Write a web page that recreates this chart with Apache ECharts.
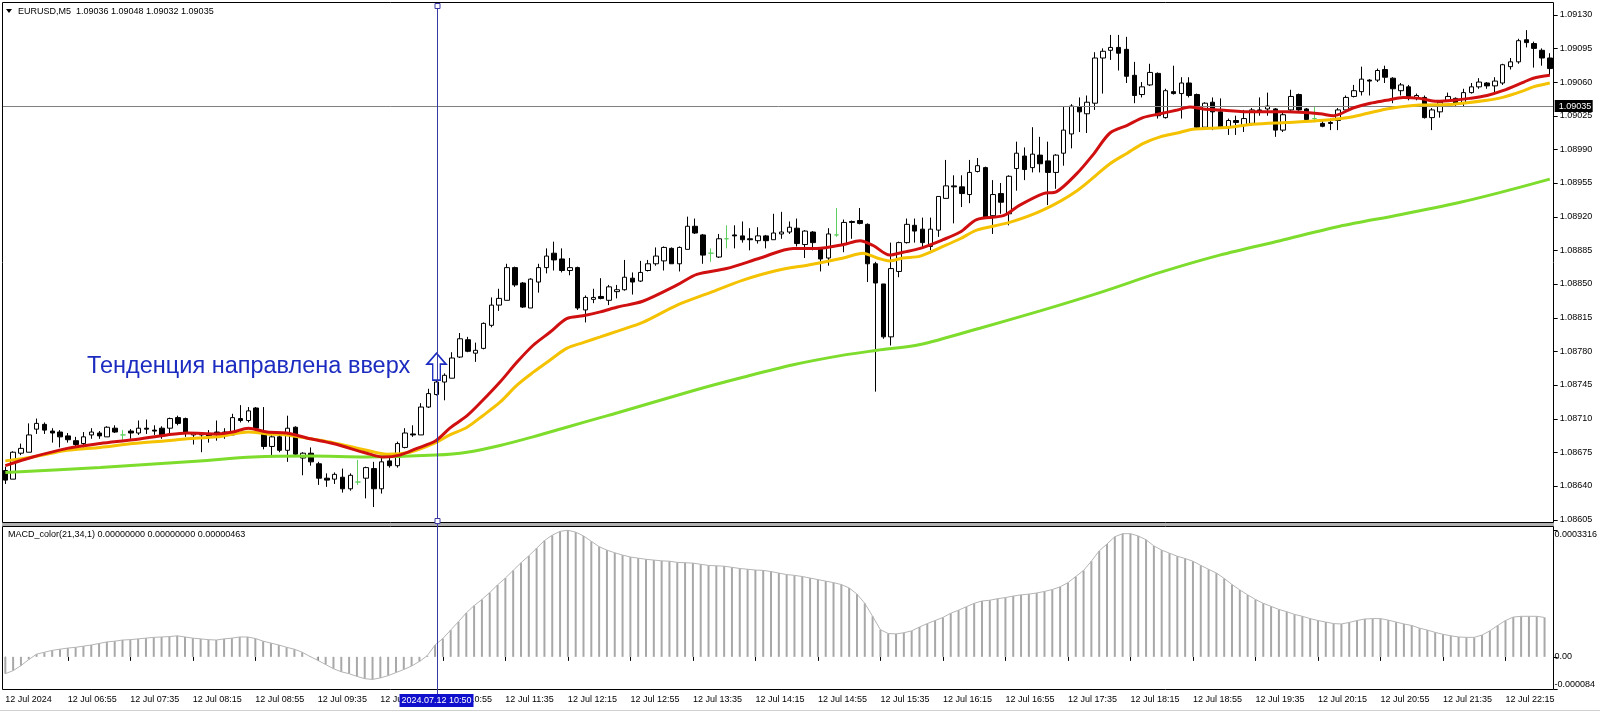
<!DOCTYPE html>
<html><head><meta charset="utf-8">
<script src="https://cdn.jsdelivr.net/npm/echarts@6/dist/echarts.min.js"></script>
<style>html,body{margin:0;padding:0;background:#fff}#c{width:1600px;height:713px}</style>
</head><body><div id="c"></div>
<script>
// ---- bar timeline (M5 bars, 12 Jul 2024) ----
const firstBarMinutes = 6 * 60 + 15;
const barMinutes = 5;
const barCount = 198;
const times = [];
for (let i = 0; i < barCount; i++) {
  const m = firstBarMinutes + i * barMinutes;
  times.push(String(Math.floor(m / 60)).padStart(2, '0') + ':' + String(m % 60).padStart(2, '0'));
}
const labelEvery = 8;
const firstLabel = '12 Jul 2024';
const dayPrefix = '12 Jul ';

// ---- OHLC ----
const openP = [
1.08656,1.08647,1.08674,1.08675,1.08699,1.08704,1.08697,1.08696,1.08692,1.08687,
1.08684,1.08693,1.08695,1.08691,1.08700,1.08693,1.08697,1.08695,1.08700,1.08698,
1.08700,1.08700,1.08711,1.08710,1.08693,1.08694,1.08693,1.08696,1.08693,1.08693,
1.08710,1.08708,1.08721,1.08694,1.08681,1.08691,1.08677,1.08701,1.08669,1.08674,
1.08663,1.08648,1.08647,1.08649,1.08637,1.08644,1.08648,1.08658,1.08637,1.08666,
1.08661,1.08680,1.08694,1.08693,1.08722,1.08735,1.08748,1.08752,1.08774,1.08792,
1.08778,1.08783,1.08807,1.08828,1.08833,1.08867,1.08851,1.08825,1.08852,1.08867,
1.08882,1.08876,1.08864,1.08867,1.08823,1.08834,1.08837,1.08833,1.08842,1.08844,
1.08856,1.08853,1.08864,1.08871,1.08874,1.08887,1.08871,1.08886,1.08910,1.08901,
1.08882,1.08878,1.08897,1.08901,1.08900,1.08897,1.08895,1.08900,1.08896,1.08902,
1.08904,1.08908,1.08891,1.08904,1.08887,1.08877,1.08901,1.08891,1.08915,1.08916,
1.08912,1.08871,1.08850,1.08795,1.08863,1.08893,1.08911,1.08907,1.08889,1.08906,
1.08939,1.08952,1.08951,1.08943,1.08967,1.08971,1.08921,1.08944,1.08923,1.08970,
1.08983,1.08971,1.08984,1.08978,1.08966,1.08986,1.09006,1.09034,1.09027,1.09038,
1.09085,1.09093,1.09096,1.09094,1.09067,1.09047,1.09057,1.09069,1.09023,1.09050,
1.09048,1.09059,1.09047,1.09013,1.09039,1.09029,1.09013,1.09020,1.09015,1.09017,
1.09031,1.09032,1.09032,1.09010,1.09031,1.09047,1.09032,1.09022,1.09017,1.09018,
1.09020,1.09031,1.09045,1.09050,1.09062,1.09062,1.09073,1.09064,1.09051,1.09055,
1.09043,1.09044,1.09023,1.09029,1.09041,1.09043,1.09038,1.09049,1.09055,1.09059,
1.09056,1.09059,1.09076,1.09081,1.09104,1.09100,1.09093,1.09085];
const highP = [
1.08660,1.08676,1.08684,1.08705,1.08710,1.08706,1.08700,1.08698,1.08695,1.08691,
1.08696,1.08700,1.08697,1.08702,1.08703,1.08698,1.08699,1.08708,1.08709,1.08703,
1.08702,1.08711,1.08713,1.08711,1.08696,1.08696,1.08698,1.08708,1.08700,1.08715,
1.08724,1.08722,1.08722,1.08722,1.08693,1.08693,1.08713,1.08702,1.08675,1.08680,
1.08665,1.08653,1.08654,1.08658,1.08653,1.08667,1.08660,1.08665,1.08669,1.08670,
1.08686,1.08700,1.08703,1.08726,1.08741,1.08752,1.08757,1.08779,1.08799,1.08795,
1.08789,1.08810,1.08836,1.08845,1.08871,1.08868,1.08852,1.08856,1.08871,1.08887,
1.08894,1.08887,1.08877,1.08868,1.08838,1.08845,1.08856,1.08849,1.08849,1.08875,
1.08862,1.08874,1.08875,1.08888,1.08889,1.08888,1.08889,1.08920,1.08918,1.08902,
1.08887,1.08902,1.08911,1.08911,1.08915,1.08908,1.08909,1.08901,1.08923,1.08925,
1.08915,1.08918,1.08906,1.08905,1.08888,1.08908,1.08929,1.08917,1.08916,1.08929,
1.08913,1.08873,1.08850,1.08893,1.08894,1.08918,1.08918,1.08919,1.08919,1.08941,
1.08979,1.08963,1.08963,1.08979,1.08981,1.08972,1.08958,1.08955,1.08963,1.08998,
1.08992,1.09013,1.09003,1.08998,1.08985,1.09034,1.09037,1.09044,1.09046,1.09091,
1.09095,1.09109,1.09109,1.09107,1.09081,1.09060,1.09079,1.09070,1.09053,1.09077,
1.09065,1.09065,1.09048,1.09039,1.09044,1.09043,1.09022,1.09025,1.09031,1.09033,
1.09044,1.09049,1.09033,1.09029,1.09052,1.09048,1.09033,1.09034,1.09021,1.09022,
1.09033,1.09046,1.09057,1.09076,1.09063,1.09074,1.09077,1.09065,1.09059,1.09057,
1.09048,1.09046,1.09033,1.09041,1.09049,1.09044,1.09053,1.09059,1.09064,1.09060,
1.09065,1.09079,1.09085,1.09105,1.09114,1.09102,1.09095,1.09090];
const lowP = [
1.08642,1.08647,1.08672,1.08675,1.08694,1.08694,1.08685,1.08680,1.08685,1.08680,
1.08680,1.08689,1.08689,1.08691,1.08695,1.08687,1.08689,1.08693,1.08694,1.08693,
1.08689,1.08695,1.08703,1.08691,1.08683,1.08675,1.08685,1.08687,1.08689,1.08693,
1.08706,1.08706,1.08698,1.08678,1.08672,1.08675,1.08665,1.08672,1.08651,1.08661,
1.08641,1.08639,1.08642,1.08633,1.08635,1.08641,1.08627,1.08618,1.08632,1.08659,
1.08659,1.08679,1.08691,1.08693,1.08721,1.08734,1.08729,1.08752,1.08773,1.08779,
1.08769,1.08782,1.08805,1.08822,1.08833,1.08847,1.08825,1.08825,1.08841,1.08861,
1.08864,1.08862,1.08859,1.08823,1.08810,1.08830,1.08834,1.08828,1.08835,1.08843,
1.08839,1.08852,1.08863,1.08869,1.08864,1.08871,1.08863,1.08886,1.08902,1.08871,
1.08873,1.08877,1.08887,1.08887,1.08893,1.08885,1.08892,1.08887,1.08896,1.08897,
1.08902,1.08889,1.08877,1.08885,1.08863,1.08869,1.08899,1.08883,1.08897,1.08912,
1.08852,1.08738,1.08793,1.08786,1.08857,1.08892,1.08893,1.08887,1.08885,1.08899,
1.08939,1.08913,1.08930,1.08934,1.08966,1.08919,1.08902,1.08923,1.08911,1.08947,
1.08958,1.08966,1.08966,1.08932,1.08949,1.08973,1.08991,1.09008,1.09007,1.09031,
1.09048,1.09083,1.09072,1.09059,1.09038,1.09044,1.09056,1.09022,1.09022,1.09047,
1.09022,1.09044,1.09012,1.09012,1.09010,1.09012,1.09005,1.09005,1.09008,1.09015,
1.09025,1.09025,1.09003,1.09008,1.09029,1.09030,1.09020,1.09018,1.09013,1.09010,
1.09010,1.09029,1.09044,1.09046,1.09046,1.09060,1.09059,1.09038,1.09046,1.09041,
1.09041,1.09022,1.09010,1.09023,1.09040,1.09034,1.09034,1.09048,1.09053,1.09053,
1.09048,1.09057,1.09073,1.09079,1.09096,1.09075,1.09077,1.09067];
const closeP = [
1.08646,1.08675,1.08679,1.08693,1.08705,1.08698,1.08695,1.08691,1.08688,1.08683,
1.08691,1.08696,1.08692,1.08701,1.08696,1.08693,1.08695,1.08700,1.08699,1.08697,
1.08693,1.08710,1.08705,1.08695,1.08695,1.08693,1.08692,1.08695,1.08696,1.08711,
1.08708,1.08718,1.08700,1.08681,1.08691,1.08677,1.08700,1.08673,1.08674,1.08665,
1.08648,1.08646,1.08652,1.08637,1.08651,1.08644,1.08659,1.08637,1.08665,1.08661,
1.08684,1.08695,1.08693,1.08722,1.08736,1.08748,1.08755,1.08773,1.08793,1.08780,
1.08781,1.08809,1.08828,1.08835,1.08867,1.08849,1.08826,1.08855,1.08867,1.08879,
1.08875,1.08864,1.08867,1.08825,1.08836,1.08836,1.08835,1.08847,1.08844,1.08857,
1.08852,1.08862,1.08871,1.08879,1.08888,1.08871,1.08888,1.08910,1.08903,1.08880,
1.08882,1.08897,1.08897,1.08900,1.08896,1.08896,1.08900,1.08895,1.08903,1.08904,
1.08909,1.08892,1.08905,1.08893,1.08876,1.08902,1.08901,1.08914,1.08914,1.08913,
1.08871,1.08851,1.08795,1.08866,1.08893,1.08912,1.08905,1.08893,1.08907,1.08941,
1.08952,1.08951,1.08944,1.08966,1.08973,1.08919,1.08943,1.08935,1.08962,1.08986,
1.08969,1.08985,1.08975,1.08966,1.08984,1.09010,1.09035,1.09029,1.09039,1.09085,
1.09092,1.09096,1.09090,1.09066,1.09046,1.09055,1.09070,1.09025,1.09051,1.09048,
1.09059,1.09046,1.09013,1.09038,1.09029,1.09013,1.09020,1.09018,1.09022,1.09031,
1.09030,1.09035,1.09010,1.09026,1.09045,1.09031,1.09021,1.09022,1.09014,1.09017,
1.09031,1.09044,1.09051,1.09063,1.09061,1.09072,1.09065,1.09053,1.09057,1.09044,
1.09046,1.09023,1.09031,1.09039,1.09045,1.09038,1.09049,1.09055,1.09060,1.09056,
1.09061,1.09078,1.09081,1.09103,1.09101,1.09095,1.09085,1.09074];

// ---- moving averages: [bar index, price] ----
const maRed = [[0,1.08661],[3.5,1.08670],[7.9,1.08679],[12.1,1.08684],[16.3,1.08688],[20.6,1.08693],[23.2,1.08695],[27,1.08694],[29,1.08696],[31,1.08700],[33.4,1.08696],[35.9,1.08695],[38.9,1.08689],[41.8,1.08684],[46.1,1.08674],[48.2,1.08670],[50.3,1.08672],[52.5,1.08679],[54.9,1.08687],[56.7,1.08700],[58.9,1.08713],[60.9,1.08729],[63.1,1.08748],[65.3,1.08769],[67.3,1.08786],[69.5,1.08800],[71.6,1.08814],[73.7,1.08817],[75.9,1.08821],[78.1,1.08826],[81.3,1.08832],[85.7,1.08849],[88.2,1.08860],[92,1.08866],[96.3,1.08877],[100.5,1.08887],[103.5,1.08887],[106.9,1.08891],[109,1.08895],[110.7,1.08890],[112.8,1.08880],[114.5,1.08883],[116.7,1.08887],[119.6,1.08896],[121.8,1.08904],[123.9,1.08917],[127.3,1.08921],[129.4,1.08932],[132.4,1.08944],[134.1,1.08946],[136.7,1.08965],[138.7,1.08984],[140.9,1.09007],[143.1,1.09015],[145.1,1.09023],[147.3,1.09027],[149.5,1.09031],[151.1,1.09034],[152.8,1.09032],[154.9,1.09031],[159.1,1.09029],[163.5,1.09029],[167.7,1.09027],[169.4,1.09025],[171.9,1.09033],[174.1,1.09038],[176.2,1.09041],[178.3,1.09044],[180.4,1.09043],[182.6,1.09040],[184.7,1.09041],[186.8,1.09043],[189,1.09046],[191,1.09051],[193.7,1.09060],[194.9,1.09064],[197,1.09067]];
const maYellow = [[0,1.08666],[3.5,1.08670],[7.9,1.08677],[12.1,1.08680],[16.3,1.08684],[20.6,1.08687],[23.2,1.08689],[27,1.08691],[31,1.08696],[33.4,1.08694],[35.9,1.08693],[38.9,1.08689],[41.8,1.08685],[46.1,1.08677],[48.7,1.08673],[51.6,1.08675],[54.9,1.08685],[56.7,1.08693],[58.9,1.08701],[60.9,1.08713],[63.1,1.08727],[65.3,1.08745],[67.3,1.08758],[69.5,1.08771],[71.6,1.08783],[73.7,1.08789],[75.9,1.08795],[78.1,1.08801],[81.3,1.08810],[85.7,1.08828],[89.9,1.08841],[94.1,1.08854],[98.4,1.08864],[102.6,1.08870],[106.9,1.08877],[109.4,1.08882],[111.2,1.08877],[112.8,1.08874],[114.5,1.08877],[116.7,1.08879],[119.6,1.08889],[121.8,1.08897],[123.9,1.08906],[128.1,1.08914],[132.4,1.08927],[136.7,1.08947],[140.9,1.08975],[143.1,1.08986],[145.1,1.08996],[147.3,1.09003],[149.5,1.09007],[151.5,1.09011],[153.7,1.09012],[156.2,1.09013],[159.1,1.09016],[163.5,1.09018],[167.7,1.09020],[171.9,1.09024],[176.2,1.09032],[180.4,1.09036],[184.7,1.09037],[189,1.09041],[191,1.09044],[193.7,1.09051],[194.9,1.09055],[197,1.09059]];
const maGreen = [[0,1.08654],[12.1,1.08659],[24.8,1.08666],[31.6,1.08670],[38.9,1.08671],[46.1,1.08670],[54.9,1.08672],[58.9,1.08675],[63.1,1.08682],[67.3,1.08691],[71.6,1.08701],[75.9,1.08711],[78.1,1.08716],[87.7,1.08739],[94.1,1.08753],[100.5,1.08766],[106.9,1.08776],[111.2,1.08781],[116.7,1.08787],[124.3,1.08804],[132,1.08822],[139.6,1.08841],[147.3,1.08862],[154.9,1.08880],[162.6,1.08895],[170.2,1.08910],[177.9,1.08922],[185.6,1.08935],[190.6,1.08945],[197,1.08959]];

// ---- MACD histogram ----
const macd = [
-44e-6,-36e-6,-23e-6,-7e-6,7e-6,12e-6,17e-6,20e-6,23e-6,25e-6,
28e-6,31e-6,35e-6,39e-6,41e-6,44e-6,45e-6,47e-6,49e-6,51e-6,
52e-6,53e-6,55e-6,52e-6,49e-6,47e-6,45e-6,44e-6,47e-6,49e-6,
52e-6,52e-6,48e-6,41e-6,36e-6,31e-6,25e-6,20e-6,12e-6,1e-6,
-9e-6,-20e-6,-31e-6,-39e-6,-44e-6,-51e-6,-57e-6,-59e-6,-55e-6,-49e-6,
-41e-6,-33e-6,-24e-6,-12e-6,3e-6,31e-6,48e-6,70e-6,92e-6,115e-6,
134e-6,150e-6,168e-6,188e-6,206e-6,226e-6,246e-6,264e-6,284e-6,304e-6,
318e-6,328e-6,331e-6,326e-6,316e-6,302e-6,288e-6,279e-6,272e-6,266e-6,
261e-6,258e-6,255e-6,253e-6,251e-6,250e-6,247e-6,246e-6,245e-6,242e-6,
239e-6,238e-6,237e-6,234e-6,231e-6,229e-6,227e-6,226e-6,223e-6,219e-6,
215e-6,213e-6,210e-6,206e-6,202e-6,198e-6,194e-6,189e-6,180e-6,164e-6,
140e-6,106e-6,71e-6,61e-6,60e-6,63e-6,68e-6,78e-6,87e-6,95e-6,
103e-6,114e-6,122e-6,131e-6,140e-6,146e-6,148e-6,152e-6,155e-6,159e-6,
162e-6,164e-6,167e-6,171e-6,176e-6,183e-6,194e-6,210e-6,226e-6,250e-6,
277e-6,295e-6,314e-6,322e-6,322e-6,316e-6,306e-6,290e-6,279e-6,271e-6,
263e-6,257e-6,250e-6,239e-6,229e-6,219e-6,205e-6,189e-6,175e-6,162e-6,
150e-6,140e-6,132e-6,124e-6,118e-6,111e-6,106e-6,100e-6,95e-6,91e-6,
87e-6,86e-6,90e-6,95e-6,99e-6,100e-6,100e-6,96e-6,91e-6,86e-6,
82e-6,75e-6,70e-6,64e-6,59e-6,55e-6,52e-6,51e-6,51e-6,57e-6,
68e-6,82e-6,95e-6,104e-6,106e-6,106e-6,106e-6,103e-6];

// ---- axes / annotations ----
const priceTicks = [1.08605,1.08640,1.08675,1.08710,1.08745,1.08780,1.08815,1.08850,1.08885,1.08920,1.08955,1.08990,1.09025,1.09060,1.09095,1.09130];
const priceMin = 1.086014, priceMax = 1.091422;
const macdMin = -0.000084, macdMax = 0.0003316;
const macdTicks = [-0.000084, 0, 0.0003316];
const currentPrice = 1.09035;
const markerBar = '10:50';
const markerDate = '2024.07.12';
const arrowMark = [55, 1.08764];
const symbolName = 'EURUSD,M5';
const titleOHLC = ['1.09036','1.09048','1.09032','1.09035'];
const macdTitle = 'MACD_color(21,34,1) 0.00000000 0.00000000 0.00000463';
const noteText = 'Тенденция направлена вверх';

const FONT = 'Liberation Sans';
const BLUE = '#1c2bc0';
const gridLeft = 1.4, gridWidth = 1552.3;

const candleData = times.map((t, i) => {
  const o = openP[i], c = closeP[i];
  const item = { value: [o, c, lowP[i], highP[i]] };
  if (o === c) item.itemStyle = { color: '#5fcf5f', color0: '#5fcf5f', borderColor: '#5fcf5f', borderColor0: '#5fcf5f' };
  return item;
});

const labelFilter = (idx) => idx % labelEvery === 0;

const chart = echarts.init(document.getElementById('c'), null, { renderer: 'canvas', width: 1600, height: 713 });
chart.setOption({
  animation: false,
  textStyle: { fontFamily: FONT },
  grid: [
    { left: gridLeft, top: 3, width: gridWidth, height: 520, show: false },
    { left: gridLeft, top: 530, width: gridWidth, height: 159, show: false }
  ],
  xAxis: [
    { type: 'category', gridIndex: 0, data: times, boundaryGap: true, show: false },
    { type: 'value', gridIndex: 0, min: -0.5, max: barCount - 0.5, show: false },
    { type: 'category', gridIndex: 1, data: times, boundaryGap: true,
      axisLine: { show: false },
      axisTick: { show: true, alignWithLabel: true, interval: labelFilter, length: 4, lineStyle: { color: '#000' } },
      axisLabel: { interval: labelFilter, align: 'left', margin: 6, fontSize: 9, color: '#000', fontFamily: FONT,
        formatter: (v, idx) => idx === 0 ? firstLabel : dayPrefix + v },
      splitLine: { show: false } }
  ],
  yAxis: [
    { type: 'value', gridIndex: 0, position: 'right', min: priceMin, max: priceMax,
      axisLine: { show: false }, axisTick: { show: false },
      axisLabel: { customValues: priceTicks, margin: 6, fontSize: 9, color: '#000', fontFamily: FONT, formatter: v => v.toFixed(5) },
      splitLine: { show: false } },
    { type: 'value', gridIndex: 1, position: 'right', min: macdMin, max: macdMax,
      axisLine: { show: false }, axisTick: { show: false },
      axisLabel: { customValues: macdTicks, margin: 6, fontSize: 9, color: '#000', fontFamily: FONT,
        verticalAlignMaxLabel: 'top', verticalAlignMinLabel: 'bottom',
        formatter: v => v === 0 ? '0.00' : String(v) },
      splitLine: { show: false } }
  ],
  series: [
    { type: 'candlestick', xAxisIndex: 0, yAxisIndex: 0, data: candleData, barWidth: 5, z: 2,
      itemStyle: { color: '#ffffff', color0: '#000000', borderColor: '#000000', borderColor0: '#000000', borderWidth: 1 } },
    { type: 'line', name: 'slow', xAxisIndex: 1, yAxisIndex: 0, data: maGreen, smooth: 0.3, symbol: 'none', z: 4,
      lineStyle: { color: '#7ddc2c', width: 3 } },
    { type: 'line', name: 'mid', xAxisIndex: 1, yAxisIndex: 0, data: maYellow, smooth: 0.3, symbol: 'none', z: 5,
      lineStyle: { color: '#f4c200', width: 3 } },
    { type: 'line', name: 'fast', xAxisIndex: 1, yAxisIndex: 0, data: maRed, smooth: 0.3, symbol: 'none', z: 6,
      lineStyle: { color: '#d01010', width: 3 } },
    { type: 'scatter', xAxisIndex: 1, yAxisIndex: 0, data: [arrowMark], z: 7,
      symbol: 'path://M10,0 L20,11 L14,11 L14,27 L6,27 L6,11 L0,11 Z', symbolSize: [19, 27],
      itemStyle: { color: '#ffffff', borderColor: BLUE, borderWidth: 1.6, opacity: 1 } },
    { type: 'bar', xAxisIndex: 2, yAxisIndex: 1, data: macd, barWidth: 2, itemStyle: { color: '#a8a8a8' } },
    { type: 'line', xAxisIndex: 2, yAxisIndex: 1, data: macd, symbol: 'none', lineStyle: { color: '#b4b4b4', width: 1 } }
  ]
});

const markerIndex = times.indexOf(markerBar);
const xLine = Math.round(chart.convertToPixel({ xAxisIndex: 1 }, markerIndex)) + 0.5;
const axisX = gridLeft + gridWidth;
const lineBlue = '#3a3aa6';
const priceY = Math.round(chart.convertToPixel({ yAxisIndex: 0 }, currentPrice)) + 0.5;
const tickGraphics = [];
priceTicks.forEach(v => {
  const y = Math.round(chart.convertToPixel({ yAxisIndex: 0 }, v)) + 0.5;
  tickGraphics.push({ type: 'line', shape: { x1: axisX, y1: y, x2: axisX + 4, y2: y }, style: { stroke: '#000', lineWidth: 1 }, z: 20 });
});
macdTicks.forEach(v => {
  const y = Math.round(chart.convertToPixel({ yAxisIndex: 1 }, v)) + 0.5;
  tickGraphics.push({ type: 'line', shape: { x1: axisX, y1: y, x2: axisX + 4, y2: y }, style: { stroke: '#000', lineWidth: 1 }, z: 20 });
});
chart.setOption({
  graphic: tickGraphics.concat([
    { type: 'line', shape: { x1: 3, y1: priceY, x2: axisX, y2: priceY }, style: { stroke: '#808080', lineWidth: 1 }, z: 3 },
    { type: 'rect', shape: { x: axisX + 1, y: priceY - 6.5, width: 38, height: 12 }, style: { fill: '#000' }, z: 42 },
    { type: 'text', x: axisX + 5, y: priceY, z: 43,
      style: { text: currentPrice.toFixed(5), fill: '#fff', fontSize: 9, fontFamily: FONT, align: 'left', verticalAlign: 'middle' } },
    { type: 'rect', shape: { x: 2.5, y: 2.5, width: 1551, height: 520 }, style: { fill: 'none', stroke: '#000', lineWidth: 1 }, z: 20 },
    { type: 'rect', shape: { x: 2, y: 523, width: 1552, height: 3 }, style: { fill: '#b0b0b0' }, z: 20 },
    { type: 'rect', shape: { x: 2.5, y: 526.5, width: 1551, height: 163 }, style: { fill: 'none', stroke: '#000', lineWidth: 1 }, z: 20 },
    { type: 'line', shape: { x1: 0, y1: 710.5, x2: 1600, y2: 710.5 }, style: { stroke: '#d0d0d0', lineWidth: 1 }, z: 20 },
    { type: 'line', shape: { x1: xLine, y1: 3, x2: xLine, y2: 695 }, style: { stroke: lineBlue, lineWidth: 1 }, z: 30 },
    { type: 'rect', shape: { x: xLine - 2.5, y: 3.5, width: 5, height: 5 }, style: { fill: '#fff', stroke: lineBlue, lineWidth: 1 }, z: 31 },
    { type: 'rect', shape: { x: xLine - 2.5, y: 518.5, width: 5, height: 5 }, style: { fill: '#fff', stroke: lineBlue, lineWidth: 1 }, z: 31 },
    { type: 'rect', shape: { x: xLine - 38, y: 694, width: 74, height: 13 }, style: { fill: '#1010cc' }, z: 40 },
    { type: 'text', x: xLine - 1, y: 700.5, z: 41,
      style: { text: markerDate + ' ' + markerBar, fill: '#fff', fontSize: 9, fontFamily: FONT, align: 'center', verticalAlign: 'middle' } },
    { type: 'polygon', shape: { points: [[6, 9], [12, 9], [9, 13]] }, style: { fill: '#000' }, z: 41 },
    { type: 'text', x: 18, y: 12, z: 41,
      style: { text: symbolName + '  ' + titleOHLC.join(' '), fill: '#000', fontSize: 9, fontFamily: FONT, align: 'left', verticalAlign: 'middle' } },
    { type: 'text', x: 8, y: 535, z: 41,
      style: { text: macdTitle, fill: '#000', fontSize: 9, fontFamily: FONT, align: 'left', verticalAlign: 'middle' } },
    { type: 'text', x: 87, y: 367, z: 41,
      style: { text: noteText, fill: BLUE, fontSize: 23.5, fontFamily: FONT, align: 'left', verticalAlign: 'middle' } }
  ])
});
</script>
</body></html>
